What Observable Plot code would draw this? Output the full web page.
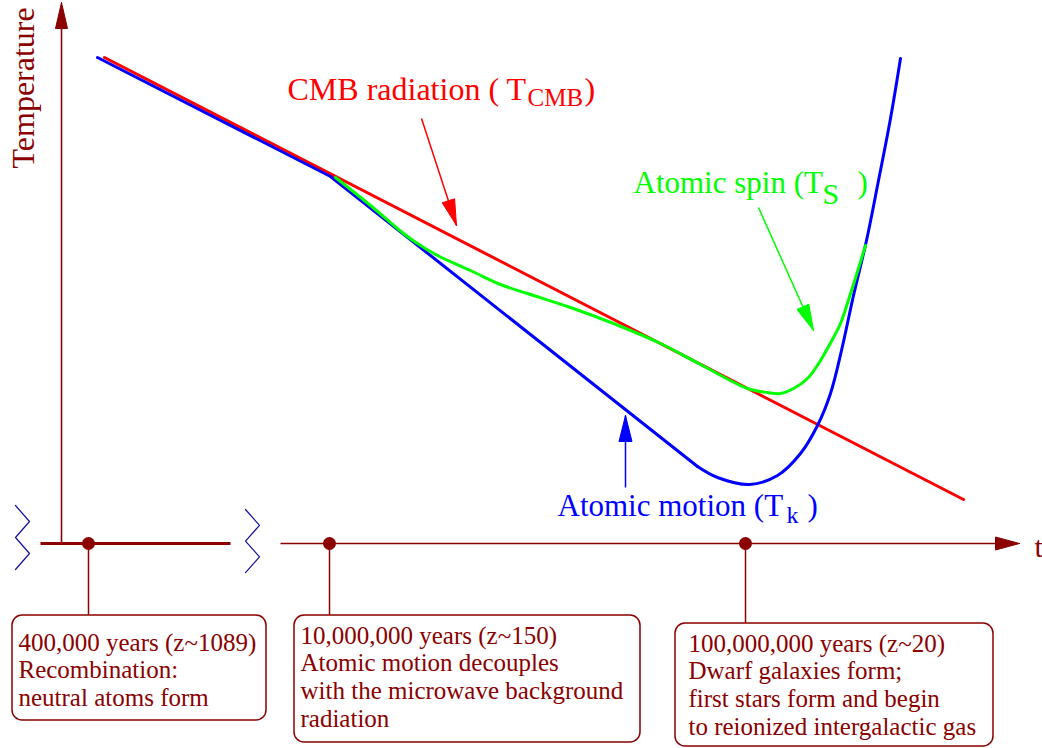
<!DOCTYPE html>
<html><head><meta charset="utf-8">
<script src="https://cdn.jsdelivr.net/npm/d3@7"></script>
<script src="https://cdn.jsdelivr.net/npm/@observablehq/plot@0.6"></script>
<style>body{margin:0;background:#fff}svg{display:block}</style>
</head><body><div id="chart"></div>
<script>
// ---- data (schematic time / temperature coordinates) ----
const cmbT = [104, 963];
const cmbTemp = [57, 499];
const kinT = [97, 330, 697, 717, 749, 777, 800, 817, 830, 841, 853, 866, 878, 890, 900];
const kinTemp = [57, 176, 466, 477, 484, 475, 453, 425, 393, 350, 295, 240, 180, 118, 58];
const spinT = [335, 370, 403, 417, 437, 470, 500, 527, 570, 613, 660, 700, 747, 767, 780, 793, 807, 820, 833, 840, 852, 865];
const spinTemp = [177, 205, 233, 243, 255, 270, 284, 293, 307, 323, 343, 364, 388, 392, 393, 388, 378, 360, 337, 323, 287, 245];

const epochT = [88, 329, 745];
const epochLines = [
  "400,000 years (z~1089)\nRecombination:\nneutral atoms form",
  "10,000,000 years (z~150)\nAtomic motion decouples\nwith the microwave background\nradiation",
  "100,000,000 years (z~20)\nDwarf galaxies form;\nfirst stars form and begin\nto reionized intergalactic gas"
];

// ---- annotation layout ----
const axisY = 543;
const boxLeft = [12, 294, 675], boxRight = [266, 640, 993];
const boxTop = [615, 615, 623], boxBottom = [720, 742, 746];
const boxTextX = [18, 300, 688], boxBaseline = [650, 643, 651];

const series = ["cmb", "spin", "kin"];
const colors = {cmb: "#ff0000", spin: "#00ff00", kin: "#0000ff"};
const DARK = "#8b0000";
const FONT = "Liberation Serif";

const pointerFromX = [421, 758, 625], pointerFromY = [118, 207, 487];
const pointerToX = [456, 813, 625], pointerToY = [225, 330, 415];

const labelParts = [
  {s: "cmb", text: "CMB radiation ( T", x: 287, y: 99, size: 32},
  {s: "cmb", text: "CMB", x: 527, y: 105, size: 25},
  {s: "cmb", text: ")", x: 584, y: 99, size: 32},
  {s: "spin", text: "Atomic spin (T", x: 633, y: 192, size: 31},
  {s: "spin", text: "S", x: 822, y: 203, size: 30},
  {s: "spin", text: ")", x: 857, y: 192, size: 31},
  {s: "kin", text: "Atomic motion (T", x: 557, y: 515, size: 31},
  {s: "kin", text: "k", x: 786, y: 522, size: 24},
  {s: "kin", text: ")", x: 807, y: 515, size: 31}
];

// ---- helpers ----
const pts = (xs, ys) => xs.map((x, i) => ({x, y: ys[i]}));
function head(x0, y0, x1, y1, len, hw) {
  const dx = x1 - x0, dy = y1 - y0, L = Math.hypot(dx, dy);
  const ux = dx / L, uy = dy / L;
  const bx = x1 - ux * len, by = y1 - uy * len;
  return [
    {x: x1, y: y1},
    {x: bx - uy * hw, y: by + ux * hw},
    {x: bx + uy * hw, y: by - ux * hw},
    {x: x1, y: y1}
  ];
}
const zig = (x0, x1, y0, step) => [0,1,2,3,4].map(i => ({x: i % 2 ? x1 : x0, y: y0 + i * step}));

const boxes = epochT.map((t, i) => ({x1: boxLeft[i], x2: boxRight[i], y1: boxTop[i], y2: boxBottom[i]}));
const boxTexts = epochLines.map((text, i) => ({text, x: boxTextX[i], y: boxBaseline[i] - 0.71 * 1.12 * 25}));
const drops = epochT.map((t, i) => ({x1: t, x2: t, y1: axisY, y2: boxTop[i]}));

const marks = [];
// axes
marks.push(Plot.link([{x1: 61, y1: axisY, x2: 61, y2: 20}], {x1: "x1", y1: "y1", x2: "x2", y2: "y2", stroke: DARK, strokeWidth: 1.6}));
marks.push(Plot.line(head(61, 100, 61, 2, 26, 6), {x: "x", y: "y", fill: DARK, stroke: DARK, strokeWidth: 1}));
marks.push(Plot.link([{x1: 40, x2: 230}], {x1: "x1", x2: "x2", y1: () => axisY, y2: () => axisY, stroke: DARK, strokeWidth: 3}));
marks.push(Plot.link([{x1: 280, x2: 1000}], {x1: "x1", x2: "x2", y1: () => axisY, y2: () => axisY, stroke: DARK, strokeWidth: 1.6}));
marks.push(Plot.line(head(900, axisY, 1019, axisY, 24, 6.5), {x: "x", y: "y", fill: DARK, stroke: DARK, strokeWidth: 1}));
marks.push(Plot.text(["t"], {x: () => 1034, y: () => 556, text: d => d, fontSize: 30, fill: DARK, textAnchor: "start", lineAnchor: "bottom"}));
marks.push(Plot.text(["Temperature"], {x: () => 33, y: () => 168, text: d => d, rotate: -90, fontSize: 32, fill: DARK, textAnchor: "start", lineAnchor: "bottom"}));
// axis breaks
marks.push(Plot.line(zig(15, 29, 505, 16), {x: "x", y: "y", stroke: "#1010a0", strokeWidth: 1.2}));
marks.push(Plot.line(zig(245, 259, 509, 15.8), {x: "x", y: "y", stroke: "#1010a0", strokeWidth: 1.2}));
// drop lines, boxes
marks.push(Plot.link(drops, {x1: "x1", x2: "x2", y1: "y1", y2: "y2", stroke: DARK, strokeWidth: 1.5}));
marks.push(Plot.dot(epochT, {x: d => d, y: () => axisY, r: 6.5, fill: DARK, stroke: "none"}));
marks.push(Plot.rect(boxes, {x1: "x1", x2: "x2", y1: "y1", y2: "y2", rx: 10, fill: "white", stroke: DARK, strokeWidth: 1.5}));
marks.push(Plot.text(boxTexts, {x: "x", y: "y", text: "text", fontSize: 25, lineHeight: 1.12, fill: DARK, textAnchor: "start", lineAnchor: "top"}));
// curves
marks.push(Plot.line(pts(cmbT, cmbTemp), {x: "x", y: "y", stroke: colors.cmb, strokeWidth: 3}));
marks.push(Plot.line(pts(kinT.slice(0, 3), kinTemp.slice(0, 3)), {x: "x", y: "y", stroke: colors.kin, strokeWidth: 3, strokeLinejoin: "miter"}));
marks.push(Plot.line(pts(kinT.slice(2), kinTemp.slice(2)), {x: "x", y: "y", stroke: colors.kin, strokeWidth: 3, curve: "catmull-rom"}));
marks.push(Plot.line(pts(spinT, spinTemp), {x: "x", y: "y", stroke: colors.spin, strokeWidth: 3, curve: "catmull-rom"}));
// pointers
series.forEach((s, i) => {
  marks.push(Plot.link([{x1: pointerFromX[i], y1: pointerFromY[i], x2: pointerToX[i], y2: pointerToY[i]}], {x1: "x1", y1: "y1", x2: "x2", y2: "y2", stroke: colors[s], strokeWidth: 1.5}));
  marks.push(Plot.line(head(pointerFromX[i], pointerFromY[i], pointerToX[i], pointerToY[i], 26, 6.5), {x: "x", y: "y", fill: colors[s], stroke: colors[s], strokeWidth: 1}));
});
// labels
series.forEach(s => {
  marks.push(Plot.text(labelParts.filter(d => d.s === s), {x: "x", y: "y", text: "text", fontSize: d => d.size, fill: colors[s], textAnchor: "start", lineAnchor: "bottom"}));
});

const chart = Plot.plot({
  width: 1042, height: 748, margin: 0,
  x: {domain: [0, 1042], range: [0, 1042]},
  y: {domain: [0, 748], range: [0, 748]},
  axis: null,
  style: {background: "#fff", overflow: "visible"},
  marks
});
chart.setAttribute("font-family", FONT);
chart.querySelectorAll("g, text, tspan").forEach(el => {
  if (el.hasAttribute("font-family")) el.setAttribute("font-family", FONT);
});
document.getElementById("chart").append(chart);
</script>
</body></html>
